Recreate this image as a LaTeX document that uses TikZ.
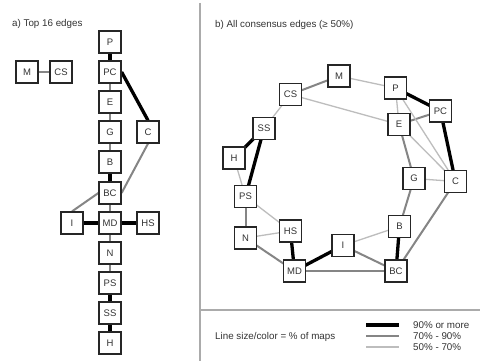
\documentclass[tikz,border=0pt]{standalone}
\usepackage{fontspec}
\setmainfont{Liberation Sans}
\usetikzlibrary{backgrounds}
\definecolor{midg}{HTML}{858585}
\definecolor{lightg}{HTML}{BDBDBD}
\definecolor{sepg}{HTML}{ABABAB}
\definecolor{txt}{HTML}{333333}
\begin{document}
\begin{tikzpicture}[x=1pt,y=-1pt,
  box/.style={draw=black!85, line width=1.2pt, fill=white, minimum size=22pt, inner sep=0pt,
    font=\fontsize{9.5}{10}\selectfont, text=txt},
  lbl/.style={anchor=west, font=\fontsize{9.8}{11}\selectfont, text=txt, inner sep=0pt},
  eninety/.style={line width=3.3pt, black},
  eseventy/.style={line width=2pt, midg},
  efifty/.style={line width=1.3pt, lightg},
  sepline/.style={line width=1.4pt, sepg}]
\useasboundingbox (0,0) rectangle (480,361);
% ---- panel a
\node[box] (aP) at (110,42) {P};
\node[box] (aPC) at (110,72) {PC};
\node[box] (aE) at (110,102) {E};
\node[box] (aG) at (110,132) {G};
\node[box] (aB) at (110,162) {B};
\node[box] (aC) at (148,132) {C};
\node[box] (aM) at (27,72) {M};
\node[box] (aCS) at (61,72) {CS};
\node[box] (aBC) at (110,193) {BC};
\node[box] (aI) at (72,223) {I};
\node[box] (aMD) at (110,223) {MD};
\node[box] (aHS) at (148,223) {HS};
\node[box] (aN) at (110,253) {N};
\node[box] (aPS) at (110,283) {PS};
\node[box] (aSS) at (110,313) {SS};
\node[box] (aH) at (110,343) {H};
\node[lbl] (ta) at (12,24) {a) Top 16 edges};
% ---- panel b
\node[box] (bM) at (339,76) {M};
\node[box] (bCS) at (290.5,94.5) {CS};
\node[box] (bP) at (395.5,88) {P};
\node[box] (bPC) at (440.5,111) {PC};
\node[box] (bE) at (399,124.5) {E};
\node[box] (bSS) at (264,128.5) {SS};
\node[box] (bH) at (234,158) {H};
\node[box] (bG) at (414,178.5) {G};
\node[box] (bC) at (455.5,181.5) {C};
\node[box] (bPS) at (245.5,196.5) {PS};
\node[box] (bN) at (245.5,238) {N};
\node[box] (bHS) at (290.5,231) {HS};
\node[box] (bI) at (343,245.5) {I};
\node[box] (bMD) at (294.5,271) {MD};
\node[box] (bB) at (399.5,226.5) {B};
\node[box] (bBC) at (396,271) {BC};
\node[lbl] (tb) at (215,25) {b) All consensus edges (≥ 50\%)};
% ---- legend
\node[lbl] (lg) at (215,337) {Line size/color = \% of maps};
\node[lbl] (l90) at (413,325) {90\% or more};
\node[lbl] (l70) at (413,336) {70\% - 90\%};
\node[lbl] (l50) at (413,347) {50\% - 70\%};
\coordinate (k90a) at (366,325); \coordinate (k90b) at (399,325);
\coordinate (k70a) at (366,336); \coordinate (k70b) at (399,336);
\coordinate (k50a) at (366,347); \coordinate (k50b) at (399,347);
\draw[eninety] (k90a) -- (k90b);
\draw[eseventy] (k70a) -- (k70b);
\draw[efifty] (k50a) -- (k50b);
% ---- separators
\coordinate (sv1) at (200,3); \coordinate (sv2) at (200,361);
\coordinate (sh1) at (200,310); \coordinate (sh2) at (480,310);
\draw[sepline] (sv1) -- (sv2);
\draw[sepline] (sh1) -- (sh2);
\begin{pgfonlayer}{background}
\fill[white] (0,0) rectangle (480,361);
% panel a edges
\draw[eseventy] (aM.center) -- (aCS.center);
\draw[eninety] (aP.center) -- (aPC.center);
\draw[eseventy] (aPC.center) -- (aE.center);
\draw[eseventy] (aE.center) -- (aG.center);
\draw[eseventy] (aG.center) -- (aB.center);
\draw[eninety] (aB.center) -- (aBC.center);
\draw[eninety] (aPC.east) -- (aC.north);
\draw[eseventy] (aC.south) -- (aBC.east);
\draw[eseventy] (aBC.center) -- (aMD.center);
\draw[eseventy] (aI.north) -- (aBC.west);
\draw[eninety] (aI.center) -- (aMD.center);
\draw[eninety] (aMD.center) -- (aHS.center);
\draw[eseventy] (aMD.center) -- (aN.center);
\draw[eseventy] (aN.center) -- (aPS.center);
\draw[eninety] (aPS.center) -- (aSS.center);
\draw[eninety] (aSS.center) -- (aH.center);
% panel b edges
\draw[eseventy] (bM.center) -- (bCS.center);
\draw[efifty] (bM.center) -- (bP.center);
\draw[efifty] (bCS.center) -- (bE.center);
\draw[efifty] (bCS.center) -- (bSS.center);
\draw[eninety] (bSS.center) -- (bH.center);
\draw[eninety] (bSS.center) -- (bPS.center);
\draw[efifty] (bH.center) -- (bPS.center);
\draw[eseventy] (bPS.center) -- (bN.center);
\draw[efifty] (bPS.center) -- (bHS.center);
\draw[efifty] (bN.center) -- (bHS.center);
\draw[eseventy] (bN.center) -- (bMD.center);
\draw[eninety] (bHS.center) -- (bMD.center);
\draw[eninety] (bMD.center) -- (bI.center);
\draw[eseventy] (bMD.center) -- (bBC.center);
\draw[eseventy] (bI.center) -- (bBC.center);
\draw[efifty] (bI.center) -- (bB.center);
\draw[eninety] (bB.center) -- (bBC.center);
\draw[eseventy] (bBC.center) -- (bC.center);
\draw[eseventy] (bB.center) -- (bG.center);
\draw[efifty] (bG.center) -- (bC.center);
\draw[eseventy] (bG.center) -- (bE.center);
\draw[eseventy] (bE.center) -- (bPC.center);
\draw[efifty] (bE.center) -- (bC.center);
\draw[eninety] (bP.center) -- (bPC.center);
\draw[eninety] (bPC.center) -- (bC.center);
\draw[efifty] (bP.center) -- (bE.center);
\draw[efifty] (bP.center) -- (bC.center);
\end{pgfonlayer}
\end{tikzpicture}
\end{document}
